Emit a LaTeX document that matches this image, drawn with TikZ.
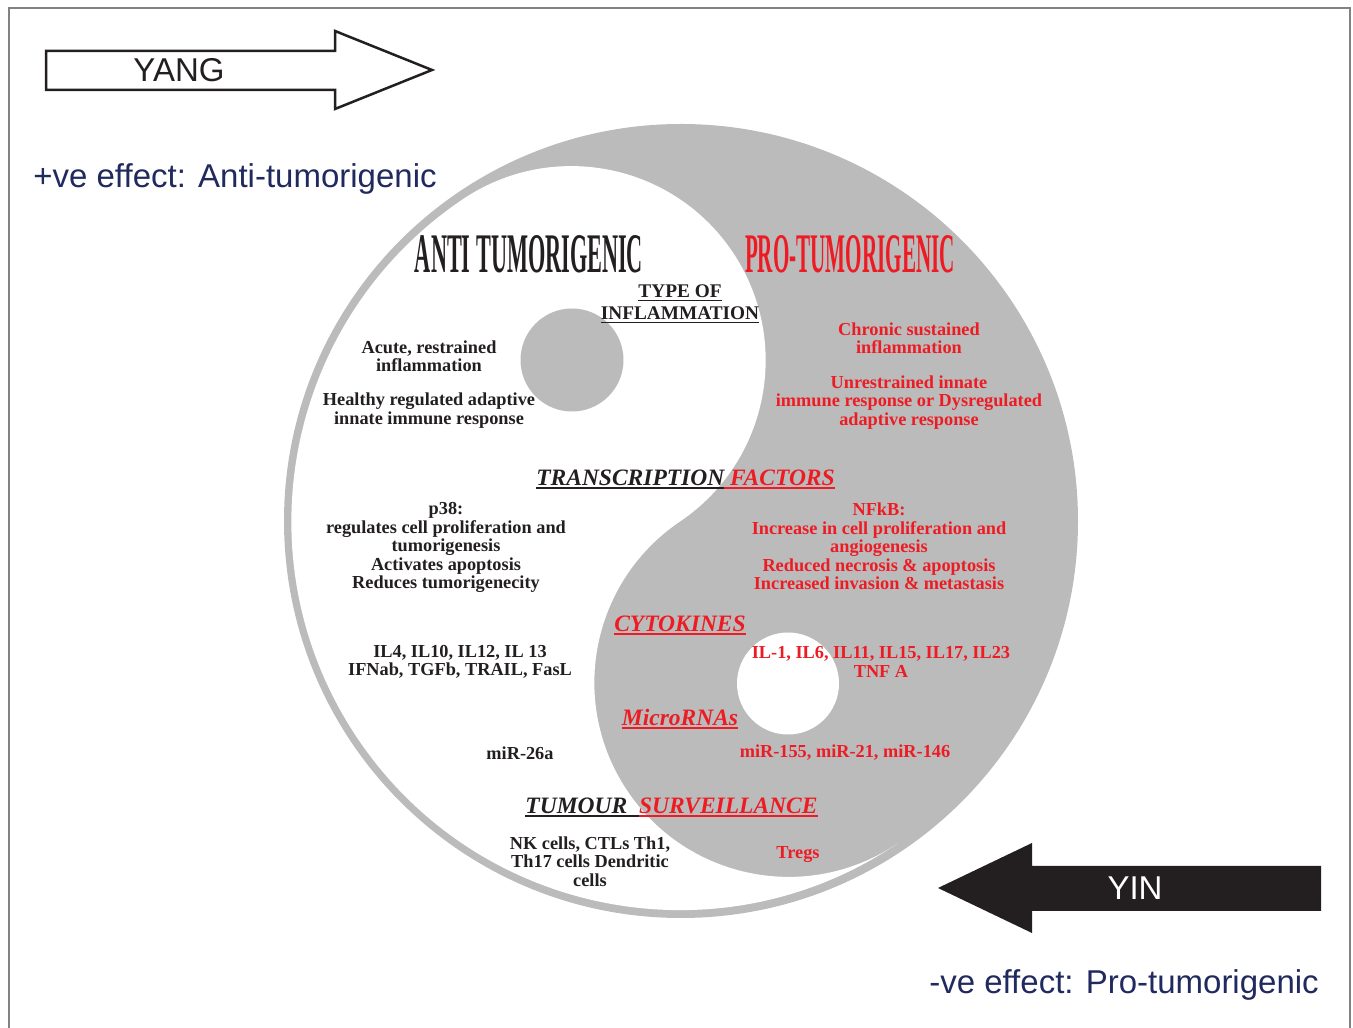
\documentclass[tikz,border=0pt]{standalone}
\usepackage{fontspec}
\setmainfont{Liberation Serif}
\newfontfamily\arialfont{Liberation Sans}
\usepackage{graphicx}
\definecolor{ygrey}{RGB}{187,187,187}
\definecolor{ytred}{RGB}{237,28,36}
\definecolor{ynavy}{RGB}{33,42,94}
\definecolor{yblack}{RGB}{35,31,32}
\definecolor{yframe}{RGB}{130,130,130}
\newcommand{\ulbar}[1]{\setbox0=\hbox{#1}\rlap{\rule[-3.5pt]{\wd0}{1.6pt}}\box0}
\begin{document}
\begin{tikzpicture}[x=1pt,y=1pt,
  body/.style={font=\bfseries\fontsize{18.3}{18.5}\selectfont, align=center, inner sep=0pt, text=yblack},
  redbody/.style={body, text=ytred},
  headtxt/.style={font=\bfseries\itshape\fontsize{23.5}{26}\selectfont, align=center, inner sep=0pt, text=yblack},
  sansbig/.style={font=\arialfont\fontsize{33}{36}\selectfont, inner sep=0pt},
  bigtitle/.style={font=\bfseries, inner sep=0pt}]
\useasboundingbox (0,0) rectangle (1353,1028);
% frame
\draw[yframe, line width=1.2] (9,0) -- (9,1020) -- (1350,1020) -- (1350,0);
% yin-yang
\fill[ygrey] (681,507) circle[radius=397];
\begin{scope}[shift={(680,506.5)}, rotate=34]
  \fill[white] (0,388.6) arc[start angle=90, end angle=270, radius=388.6]
    arc[start angle=270, end angle=90, radius=194.3]
    arc[start angle=270, end angle=450, radius=194.3] -- cycle;
\end{scope}
\fill[ygrey] (572,668) circle[radius=51.5];
\fill[white] (788,344.5) circle[radius=51];
% arrows
\draw[yblack, line width=2.5, fill=white, line join=miter]
  (46,938) -- (335,938) -- (335,919) -- (432,958) -- (335,997) -- (335,977) -- (46,977) -- cycle;
\node[sansbig, text=yblack] (yang) at (179,958) {YANG};
\fill[yblack] (1321,117) -- (1032,117) -- (1032,95) -- (938,140) -- (1032,185) -- (1032,162) -- (1321,162) -- cycle;
\node[sansbig, text=white] (yin) at (1135,140) {YIN};
\node[sansbig, text=ynavy] (plus) at (235,849) {+ve effect: Anti-tumorigenic};
\node[sansbig, text=ynavy] (minus) at (1124,43) {-ve effect: Pro-tumorigenic};
% titles
\node[bigtitle, text=yblack] (anti) at (529,774) {\resizebox{228pt}{37pt}{ANTI TUMORIGENIC}};
\node[bigtitle, text=ytred] (pro) at (850,774) {\resizebox{210pt}{37pt}{PRO-TUMORIGENIC}};
% type of inflammation
\node[body, font=\bfseries\fontsize{19.3}{22}\selectfont] (type) at (680,724) {\ulbar{TYPE OF}\\\ulbar{INFLAMMATION}};
\node[body] (acute) at (429,672) {Acute, restrained\\inflammation};
\node[body] (healthy) at (429,617.5) {Healthy regulated adaptive\\innate immune response};
\node[redbody] (chronic) at (909,690) {Chronic sustained\\inflammation};
\node[redbody] (unres) at (909,625.5) {Unrestrained innate\\immune response or Dysregulated\\adaptive response};
% transcription factors
\node[headtxt] (tf) at (685.5,549) {\ulbar{TRANSCRIPTION}\textcolor{ytred}{\ulbar{\ FACTORS}}};
\node[body] (p38) at (446,480.5) {p38:\\regulates cell proliferation and\\tumorigenesis\\Activates apoptosis\\Reduces tumorigenecity};
\node[redbody] (nfkb) at (879,481.5) {NFkB:\\Increase in cell proliferation and\\angiogenesis\\Reduced necrosis \& apoptosis\\Increased invasion \& metastasis};
% cytokines
\node[headtxt, text=ytred] (cyto) at (680,403) {\ulbar{CYTOKINES}};
\node[body] (ilanti) at (460,366) {IL4, IL10, IL12, IL 13\\IFNab, TGFb, TRAIL, FasL};
\node[redbody] (ilpro) at (881,366) {IL-1, IL6, IL11, IL15, IL17, IL23\\TNF A};
% microRNAs
\node[headtxt, text=ytred] (mirna) at (680,309) {\ulbar{MicroRNAs}};
\node[body] (mir26) at (520,275) {miR-26a};
\node[redbody] (mirpro) at (845,275) {miR-155, miR-21, miR-146};
% tumour surveillance
\node[headtxt] (ts) at (671.5,221) {\ulbar{TUMOUR\ \ }\textcolor{ytred}{\ulbar{SURVEILLANCE}}};
\node[body] (nk) at (590,166.5) {NK cells, CTLs Th1,\\Th17 cells Dendritic\\cells};
\node[redbody] (tregs) at (798,173) {Tregs};
\end{tikzpicture}
\end{document}
